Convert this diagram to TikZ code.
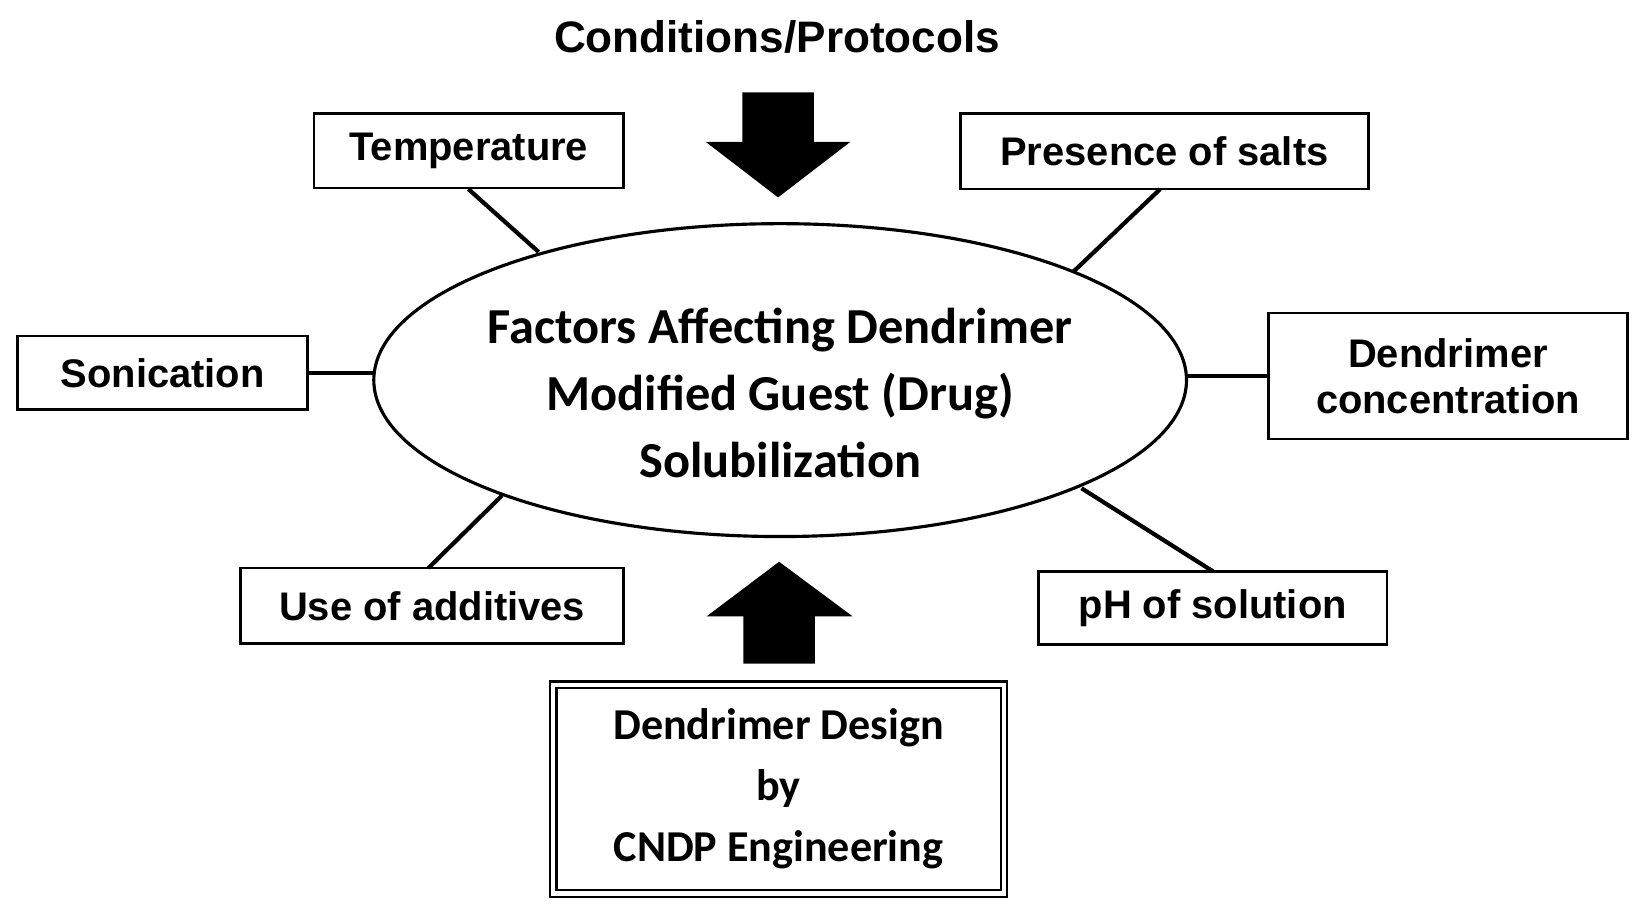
\documentclass[tikz,border=0pt]{standalone}
\usepackage{fontspec}
\setmainfont{Liberation Sans}
\newfontfamily\carl{Carlito}
\usetikzlibrary{shapes.geometric,shadows}
\begin{document}
\begin{tikzpicture}[x=0.5pt,y=-0.5pt,
 box/.style={draw,line width=1.3pt,inner sep=0pt,font=\fontsize{19}{22}\selectfont\bfseries,align=center},
 con/.style={line width=2pt},
 arr/.style={fill=black}]
\useasboundingbox (0,0) rectangle (1560,868);
\node[font=\fontsize{21}{24}\selectfont\bfseries] (title) at (740,35) {Conditions/Protocols};
\node[ellipse,draw,line width=1.5pt,minimum width=387pt,minimum height=149pt,inner sep=0pt] (ell) at (743,362) {};
\node[font=\carl\fontsize{24}{32}\selectfont\bfseries,align=center] (etxt) at (743,374) {Factors Affecting Dendrimer\\Modified Guest (Drug)\\Solubilization};
\node[box,minimum width=147.5pt,minimum height=35.5pt] (temp) at (446.5,143.5) {Temperature};
\node[box,minimum width=194pt,minimum height=36pt] (salt) at (1109,144) {Presence of salts};
\node[box,minimum width=138pt,minimum height=35pt] (son) at (155,355) {Sonication};
\node[box,minimum width=171pt,minimum height=60pt] (dc) at (1379,358) {Dendrimer\\concentration};
\node[box,minimum width=182.5pt,minimum height=36pt] (add) at (411.5,577) {Use of additives};
\node[box,minimum width=166pt,minimum height=35pt] (ph) at (1155,579) {pH of solution};
\node[draw,double,double distance=2pt,line width=1pt,minimum width=214.5pt,minimum height=99.5pt,inner sep=0pt,
 font=\carl\fontsize{21}{29}\selectfont\bfseries,align=center,drop shadow={opacity=0.35,shadow xshift=2pt,shadow yshift=-2pt},fill=white] (des) at (741.5,751.5) {Dendrimer Design\\by\\CNDP Engineering};
\coordinate (t1) at (446,180); \coordinate (t2) at (513,240);
\coordinate (s1) at (1105,180); \coordinate (s2) at (1022,259);
\coordinate (a1) at (408,541); \coordinate (a2) at (478,472);
\coordinate (p1) at (1155,544); \coordinate (p2) at (1030,465);
\draw[con] (t1) -- (t2);
\draw[con] (s1) -- (s2);
\draw[con] (son.east) -- (356,355);
\draw[con] (1130,358) -- (dc.west);
\draw[con] (a1) -- (a2);
\draw[con] (p1) -- (p2);
\fill[arr] (707,88) -- (775,88) -- (775,135) -- (810,135) -- (741,188) -- (672,135) -- (707,135) -- cycle;
\fill[arr] (708,632) -- (776,632) -- (776,587) -- (812,587) -- (742,535) -- (673,587) -- (708,587) -- cycle;
\end{tikzpicture}
\end{document}
